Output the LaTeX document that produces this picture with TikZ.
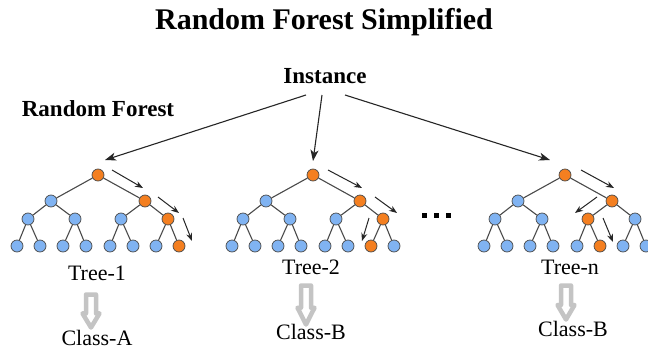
\documentclass[tikz,border=0pt]{standalone}
\usepackage{fontspec}
\setmainfont{Liberation Serif}
\usetikzlibrary{arrows.meta}
\definecolor{nblue}{HTML}{80B3F2}
\definecolor{norange}{HTML}{F47F20}
\definecolor{nedge}{HTML}{4A4A4A}
\definecolor{hgray}{HTML}{C4C4C4}
\tikzset{
  tn/.style={circle,draw=nedge,line width=0.7pt,minimum size=12pt,inner sep=0pt},
  edge/.style={draw=nedge,line width=1.1pt},
  patharrow/.style={draw=black!85,line width=1pt,-{Stealth[length=8pt,width=6pt]}},
  instarrow/.style={draw=black!85,line width=1.1pt,-{Stealth[length=11pt,width=8pt,inset=3pt]}},
  hollow/.style={draw=hgray,line width=4.5pt,fill=white,line join=round},
  boldlbl/.style={font=\fontsize{23}{27}\selectfont\bfseries,inner sep=0pt},
  lbl/.style={font=\fontsize{22}{26}\selectfont,inner sep=0pt}
}
\newcommand\rftree[5]{%
  \node[tn,fill=norange] (#1r) at (#2,175) {};
  \foreach \i/\dx in {1/-47,2/47}{%
    \ifnum\i=#3\relax\def\fc{norange}\else\def\fc{nblue}\fi
    \node[tn,fill=\fc] (#1b\i) at ({#2+\dx},201) {};
    \draw[edge] (#1r) -- (#1b\i);
  }
  \foreach \i/\dx/\p in {1/-70/1,2/-23/1,3/23/2,4/70/2}{%
    \ifnum\i=#4\relax\def\fc{norange}\else\def\fc{nblue}\fi
    \node[tn,fill=\fc] (#1c\i) at ({#2+\dx},219) {};
    \draw[edge] (#1b\p) -- (#1c\i);
  }
  \foreach \i/\dx/\p in {1/-81/1,2/-58/1,3/-35/2,4/-12/2,5/12/3,6/35/3,7/58/4,8/81/4}{%
    \ifnum\i=#5\relax\def\fc{norange}\else\def\fc{nblue}\fi
    \node[tn,fill=\fc] (#1d\i) at ({#2+\dx},246) {};
    \draw[edge] (#1c\p) -- (#1d\i);
  }
}
\newcommand\hollowarrow[3]{%
  \pgfmathsetmacro\hmid{#2+0.55*(#3-#2)}
  \draw[hollow] ({#1-5},{#2+2.5}) -- ({#1+5},{#2+2.5}) -- ({#1+5},\hmid) -- ({#1+8.5},\hmid)
    -- (#1,{#3-3.5}) -- ({#1-8.5},\hmid) -- ({#1-5},\hmid) -- cycle;
}
\begin{document}
\begin{tikzpicture}[x=1pt,y=-1pt]
\useasboundingbox (0,0) rectangle (648,351);
\fill[white] (0,0) rectangle (648,351);

\node[font=\fontsize{30}{34}\selectfont\bfseries,inner sep=0pt] (title) at (324,22) {Random Forest Simplified};
\node[boldlbl] (inst) at (325,76) {Instance};
\node[boldlbl] (rf) at (98,109) {Random Forest};

\rftree{a}{98}{2}{4}{8}
\rftree{b}{313}{2}{4}{7}
\rftree{n}{565}{2}{3}{6}

% instance arrows
\coordinate (s1) at (306,95); \coordinate (e1) at (105,160);
\coordinate (s2) at (322,95); \coordinate (e2) at (313,161);
\coordinate (s3) at (345,95); \coordinate (e3) at (550,160);
\draw[instarrow] (s1) -- (e1);
\draw[instarrow] (s2) -- (e2);
\draw[instarrow] (s3) -- (e3);

% decision path arrows
\coordinate (a1s) at (112,170); \coordinate (a1e) at (143,188);
\coordinate (a2s) at (158,197); \coordinate (a2e) at (179,213);
\coordinate (a3s) at (183,218); \coordinate (a3e) at (192,241);
\coordinate (b1s) at (328,170); \coordinate (b1e) at (362,188);
\coordinate (b2s) at (375,197); \coordinate (b2e) at (397,213);
\coordinate (b3s) at (369,218); \coordinate (b3e) at (362,241);
\coordinate (n1s) at (581,170); \coordinate (n1e) at (614,188);
\coordinate (n2s) at (597,197); \coordinate (n2e) at (575,213);
\coordinate (n3s) at (603,218); \coordinate (n3e) at (613,242);
\foreach \p in {a1,a2,a3,b1,b2,b3,n1,n2,n3}{\draw[patharrow] (\p s) -- (\p e);}

% dots
\foreach \x in {424,436,448}{\fill[black] ({\x-2.5},212.5) rectangle ({\x+2.5},217.5);}

% labels
\node[lbl] (t1) at (97,273) {Tree-1};
\node[lbl] (t2) at (311,267) {Tree-2};
\node[lbl] (tn) at (570,267) {Tree-n};
\hollowarrow{91}{292}{331}
\hollowarrow{306}{283}{328}
\hollowarrow{566}{283}{323}
\node[lbl] (c1) at (97,338) {Class-A};
\node[lbl] (c2) at (311,332) {Class-B};
\node[lbl] (c3) at (573,329) {Class-B};
\end{tikzpicture}
\end{document}
